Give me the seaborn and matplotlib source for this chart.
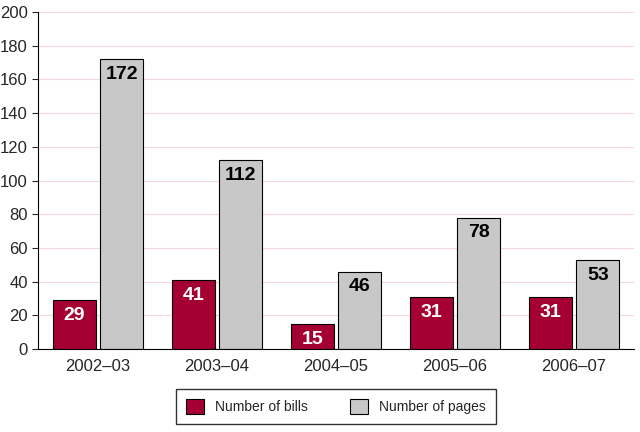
import matplotlib
matplotlib.use('Agg')
import matplotlib.pyplot as plt
import seaborn as sns
import pandas as pd

years = ['2002–03', '2003–04', '2004–05', '2005–06', '2006–07']
bills = [29, 41, 15, 31, 31]
pages = [172, 112, 46, 78, 53]
series = ['Number of bills', 'Number of pages']
colors = ['#a50034', '#c8c8c8']

df = pd.DataFrame({
    'year': years * 2,
    'value': bills + pages,
    'series': [series[0]] * len(years) + [series[1]] * len(years),
})

sns.set_style('white')
plt.rcParams['font.family'] = 'Liberation Sans'

fig = plt.figure(figsize=(6.4, 4.32), dpi=100)
ax = fig.add_axes([0.06, 0.192, 0.93, 0.78])
sns.barplot(data=df, x='year', y='value', hue='series', palette=colors,
            width=0.8, gap=0.1, edgecolor='black', linewidth=0.8,
            saturation=1, ax=ax)

ax.set_ylim(0, 200)
ax.set_yticks(range(0, 201, 20))
ax.yaxis.grid(True, color='#f4d6dc', linewidth=0.8)
ax.set_axisbelow(True)
ax.set_xlabel('')
ax.set_ylabel('')
for s in ['top', 'right']:
    ax.spines[s].set_visible(False)
for s in ['left', 'bottom']:
    ax.spines[s].set_color('black')
ax.tick_params(axis='y', left=True, length=4, labelsize=12)
ax.tick_params(axis='x', bottom=False, labelsize=12)

for cont, tc in zip(ax.containers, ['white', 'black']):
    for p in cont:
        h = p.get_height()
        ax.text(p.get_x() + p.get_width() / 2, h - 4, f'{int(h)}',
                ha='center', va='top', color=tc, fontsize=14,
                fontweight='bold')

handles, labels = ax.get_legend_handles_labels()
ax.legend(handles, labels, loc='center', bbox_to_anchor=(0.5, -0.17),
          ncol=2, frameon=True, fancybox=False, edgecolor='black',
          fontsize=10, handlelength=1.3, handleheight=1.3,
          columnspacing=3, borderpad=0.7)

fig.savefig('out.png', dpi=100)
